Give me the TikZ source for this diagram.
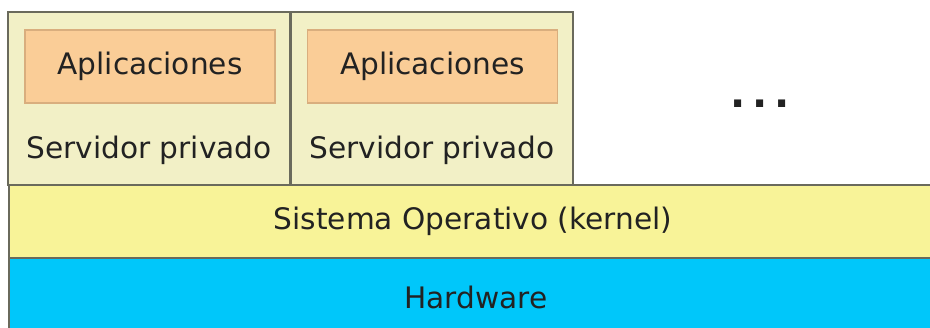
\documentclass[tikz,border=0pt]{standalone}
\usepackage{fontspec}
\setmainfont{DejaVu Sans}
\usepackage{xcolor}
\usetikzlibrary{positioning}
\definecolor{srvfill}{HTML}{F2F0C6}
\definecolor{appfill}{HTML}{FACD97}
\definecolor{appdraw}{HTML}{D9AE7E}
\definecolor{kernfill}{HTML}{F8F398}
\definecolor{hwfill}{HTML}{00C7FA}
\definecolor{layerdraw}{HTML}{6A6A5C}
\definecolor{txt}{HTML}{222222}
\tikzset{
  %% Private server boxes
  srvbox/.style={
    rectangle, draw=layerdraw, fill=srvfill, line width=1pt,
    inner sep=0pt, minimum width=141pt, minimum height=86.5pt},
  %% Application boxes
  appbox/.style={
    rectangle, draw=appdraw, fill=appfill, line width=0.6pt,
    inner sep=0pt, minimum width=125pt, minimum height=36.5pt,
    font=\fontsize{14.8}{17}\selectfont, text=txt},
  %% Plain labels
  lbl/.style={inner sep=0pt, font=\fontsize{14.8}{17}\selectfont, text=txt},
  %% Full-width layers
  layer/.style={
    rectangle, draw=layerdraw, line width=1pt, inner sep=0pt,
    minimum width=463pt, minimum height=36.5pt},
}
\begin{document}
\begin{tikzpicture}[x=0.5pt, y=-0.5pt]
  \clip (0,0) rectangle (930,327);

  %% Row 1: private servers
  \node[srvbox] (srv1) at (149,98.5)   {};
  \node[srvbox] (srv2) at (431.5,98.5) {};
  \node[appbox] (app1) at (150,66.5)   {Aplicaciones};
  \node[appbox] (app2) at (432.5,66.5) {Aplicaciones};
  \node[lbl] (lbl1) at (149,150)   {Servidor privado};
  \node[lbl] (lbl2) at (432,150)   {Servidor privado};
  \node[lbl, anchor=base, font=\fontsize{20}{22}\selectfont\bfseries]
    (more) at (760,107) {.\hspace{3.4pt}.\hspace{3.4pt}.};

  %% Row 2: kernel
  \node[layer, fill=kernfill] (kern) at (471.5,221.5) {};
  \node[lbl] (kernlbl) at (473,221.5) {Sistema Operativo (kernel)};

  %% Row 3: hardware
  \node[layer, fill=hwfill, minimum height=38pt] (hw) at (471.5,296) {};
  \node[lbl] (hwlbl) at (476,297) {Hardware};
\end{tikzpicture}
\end{document}
